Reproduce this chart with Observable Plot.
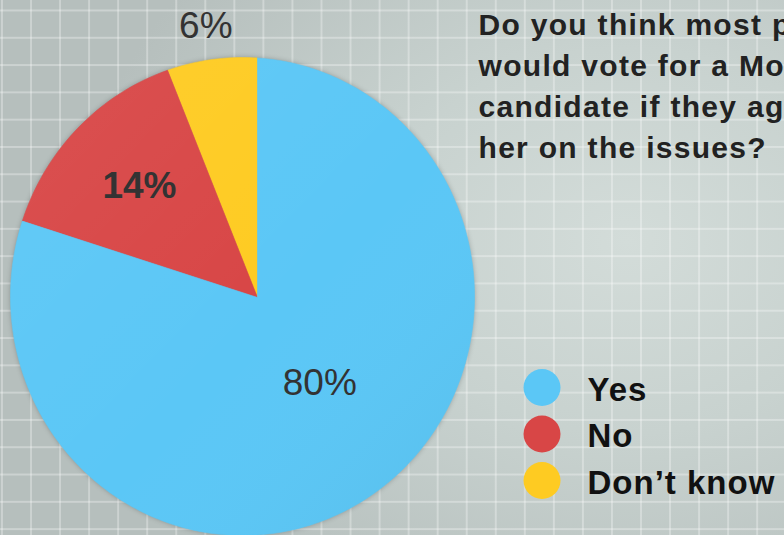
<!DOCTYPE html>
<html>
<head>
<meta charset="utf-8">
<script src="https://cdn.jsdelivr.net/npm/d3@7"></script>
<script src="https://cdn.jsdelivr.net/npm/@observablehq/plot@0.6"></script>
<style>
  html, body { margin: 0; padding: 0; width: 784px; height: 535px; overflow: hidden; }
  #chart {
    position: relative; width: 784px; height: 535px; overflow: hidden;
    background-color: #c4cdcb;
    background-image:
      linear-gradient(to right, rgba(255,255,255,0.30) 0, rgba(255,255,255,0.30) 2px, transparent 2px),
      linear-gradient(to bottom, rgba(255,255,255,0.30) 0, rgba(255,255,255,0.30) 2px, transparent 2px),
      radial-gradient(ellipse 70% 80% at 80% 45%, #d3dcd9 0%, #c8d2cf 45%, #b6bfbd 100%);
    background-size: 29.05px 100%, 100% 27.3px, 100% 100%;
    background-position: 1px 0, 0 9.5px, 0 0;
  }
  #chart svg { position: absolute; left: 0; top: 0; }
</style>
</head>
<body>
<div id="chart"></div>
<script>
// ---- data ----
const categories = ["Yes", "No", "Don\u2019t know"];
const values = [80, 14, 6];
const valueLabels = ["80%", "14%", "6%"];
const colors = ["#5bc7f6", "#d84646", "#fecb22"];
const titleLines = [
  "Do you think most people",
  "would vote for a Mormon",
  "candidate if they agreed with him or",
  "her on the issues?"
];

// ---- geometry (pixel space) ----
const V = [257, 297];          // pie apex
const C = [242, 296];          // ellipse centre (slight perspective)
const RX = 232, RY = 239;
function edge(theta) {
  const dx = Math.sin(theta), dy = -Math.cos(theta);
  const ox = V[0] - C[0], oy = V[1] - C[1];
  const a = (dx / RX) ** 2 + (dy / RY) ** 2;
  const b = 2 * (ox * dx / RX ** 2 + oy * dy / RY ** 2);
  const c = (ox / RX) ** 2 + (oy / RY) ** 2 - 1;
  const t = (-b + Math.sqrt(b * b - 4 * a * c)) / (2 * a);
  return [V[0] + t * dx, V[1] + t * dy];
}
const total = d3.sum(values);
// slices run counter-clockwise from 12 o'clock: Don't know, No, Yes
const order = [2, 1, 0];
const slicePts = [];
const labelPts = [];
const labelR = {"Yes": 106, "No": 162, "Don\u2019t know": 276};
let cum = 0;
for (const i of order) {
  const a0 = -2 * Math.PI * cum / total;
  const a1 = -2 * Math.PI * (cum + values[i]) / total;
  const n = Math.max(4, Math.ceil(values[i] * 3));
  slicePts.push({cat: categories[i], x: V[0], y: V[1]});
  for (let k = 0; k <= n; k++) {
    const [x, y] = edge(a0 + (a1 - a0) * k / n);
    slicePts.push({cat: categories[i], x, y});
  }
  slicePts.push({cat: categories[i], x: V[0], y: V[1]});
  const am = (a0 + a1) / 2, r = labelR[categories[i]];
  labelPts.push({cat: categories[i], label: valueLabels[i],
    x: V[0] + r * Math.sin(am), y: V[1] - r * Math.cos(am)});
  cum += values[i];
}
const outline = d3.range(0, 361, 2).map(d => {
  const [x, y] = edge(d * Math.PI / 180);
  return {x, y};
});
const legend = categories.map((c, i) => ({cat: c, x: 541.5, y: 387 + i * 46.5}));

const plot = Plot.plot({
  width: 784, height: 535, margin: 0,
  x: {domain: [0, 784], range: [0, 784], axis: null},
  y: {domain: [0, 535], range: [0, 535], axis: null},
  color: {domain: categories, range: colors},
  style: {background: "transparent", overflow: "hidden"},
  marks: [
    Plot.line(outline, {x: "x", y: "y", fill: "rgba(0,0,0,0.25)", stroke: "none", curve: "linear-closed"}),
    Plot.line(slicePts, {x: "x", y: "y", z: "cat", fill: "cat", stroke: "cat", strokeWidth: 0.6, curve: "linear"}),
    Plot.line(outline, {x: "x", y: "y", fill: "url(#pieShade)", stroke: "none", curve: "linear-closed"}),
    Plot.text(labelPts.filter(d => d.cat !== "No"), {x: "x", y: "y", text: "label",
      fontSize: 37, fontFamily: "Liberation Sans, Arial, sans-serif", fill: "#333"}),
    Plot.text(labelPts.filter(d => d.cat === "No"), {x: "x", y: "y", text: "label",
      fontSize: 37, fontWeight: "bold", fontFamily: "Liberation Sans, Arial, sans-serif", fill: "#333"}),
    Plot.text([titleLines.join("\n")], {x: 478, y: 6, text: d => d, textAnchor: "start", lineAnchor: "top",
      fontSize: 30, fontWeight: "bold", lineHeight: 1.357, fontFamily: "Liberation Sans, Arial, sans-serif", fill: "#222"}),
    Plot.dot(legend, {x: "x", y: "y", r: 18.5, fill: "cat", stroke: "none"}),
    Plot.text(legend, {x: 587, y: "y", dy: 2.5, text: "cat", textAnchor: "start",
      fontSize: 33, fontWeight: "bold", fontFamily: "Liberation Sans, Arial, sans-serif", fill: "#111"})
  ]
});

// gradient defs for subtle shading + soft shadow
const ns = "http://www.w3.org/2000/svg";
const defs = document.createElementNS(ns, "defs");
defs.innerHTML = `
  <linearGradient id="pieShade" x1="0" y1="0" x2="1" y2="1">
    <stop offset="0" stop-color="#ffffff" stop-opacity="0.06"/>
    <stop offset="0.55" stop-color="#ffffff" stop-opacity="0"/>
    <stop offset="1" stop-color="#000000" stop-opacity="0.05"/>
  </linearGradient>`;
plot.insertBefore(defs, plot.firstChild);
const lines = plot.querySelectorAll('g[aria-label="line"]');
if (lines[0]) lines[0].style.filter = "blur(2.5px)";
const texts = plot.querySelectorAll('g[aria-label="text"]');
if (texts[2]) texts[2].style.letterSpacing = "1.3px";
if (texts[3]) texts[3].style.letterSpacing = "1px";
document.getElementById("chart").appendChild(plot);
</script>
</body>
</html>
